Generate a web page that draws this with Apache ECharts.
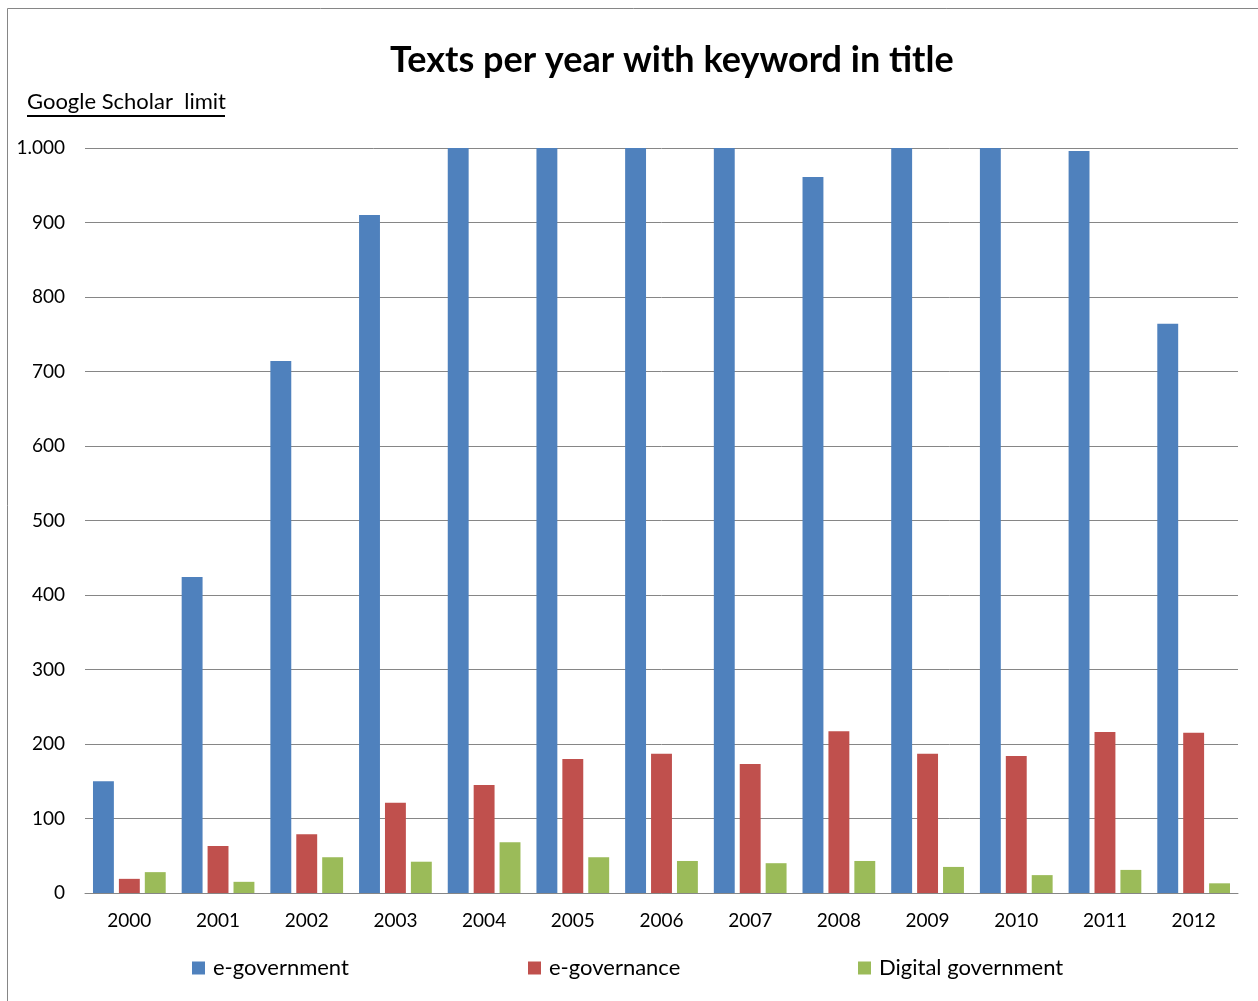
<!DOCTYPE html>
<html>
<head>
<meta charset="utf-8">
<script src="https://cdn.jsdelivr.net/npm/echarts@6/dist/echarts.min.js"></script>
<style>
  html, body { margin: 0; padding: 0; background: #fff; }
  #chart { width: 1258px; height: 1001px; }
</style>
</head>
<body>
<div id="chart"></div>
<script>
// Yearly counts of texts with the keyword in the title
const years = ['2000','2001','2002','2003','2004','2005','2006','2007','2008','2009','2010','2011','2012'];
const eGovernment = [150, 424, 714, 910, 1000, 1000, 1000, 1000, 961, 1000, 1000, 996, 764];
const eGovernance = [19, 63, 79, 121, 145, 180, 187, 173, 217, 187, 184, 216, 215];
const digitalGovernment = [28, 15, 48, 42, 68, 48, 43, 40, 43, 35, 24, 31, 13];
const yTicks = { min: 0, max: 1000, interval: 100 };

const FONT = 'Lato, "Open Sans", sans-serif';
const chart = echarts.init(document.getElementById('chart'));

const legendBase = {
  bottom: 22,
  padding: 0,
  itemWidth: 13,
  itemHeight: 13,
  itemGap: 0,
  icon: 'rect',
  textStyle: { fontFamily: FONT, fontSize: 22, color: '#000', padding: [0, 0, 0, 3] }
};

chart.setOption({
  animation: false,
  title: {
    text: 'Texts per year with keyword in title',
    left: 390,
    top: 42,
    padding: 0,
    textStyle: { fontFamily: FONT, fontSize: 36, fontWeight: 'bold', color: '#000' }
  },
  legend: [
    Object.assign({}, legendBase, { left: 192, data: ['e-government'] }),
    Object.assign({}, legendBase, { left: 528, data: ['e-governance'] }),
    Object.assign({}, legendBase, { left: 858, data: ['Digital government'] })
  ],
  grid: { left: 85, right: 20, top: 148, bottom: 108, containLabel: false },
  xAxis: {
    type: 'category',
    data: years,
    axisLine: { lineStyle: { color: '#868686' } },
    axisTick: { show: false },
    axisLabel: { fontFamily: FONT, fontSize: 19, color: '#000', margin: 18 }
  },
  yAxis: {
    type: 'value',
    min: yTicks.min,
    max: yTicks.max,
    interval: yTicks.interval,
    axisLine: { show: false },
    axisTick: { show: false },
    splitLine: { lineStyle: { color: '#868686', width: 1 } },
    axisLabel: {
      fontFamily: FONT, fontSize: 19, color: '#000', margin: 20,
      formatter: v => v >= 1000 ? String(v).replace(/(\d)(?=(\d{3})+$)/g, '$1.') : String(v)
    }
  },
  series: [
    { name: 'e-government', type: 'bar', data: eGovernment, itemStyle: { color: '#4F81BD' }, barGap: '24%', barCategoryGap: '18%' },
    { name: 'e-governance', type: 'bar', data: eGovernance, itemStyle: { color: '#C0504D' } },
    { name: 'Digital government', type: 'bar', data: digitalGovernment, itemStyle: { color: '#9BBB59' } }
  ],
  graphic: [
    {
      type: 'rect',
      shape: { x: 7.5, y: 8.5, width: 1262, height: 1000 },
      style: { fill: 'none', stroke: '#868686', lineWidth: 1 },
      silent: true
    },
    {
      type: 'text',
      left: 27,
      top: 91,
      style: { text: 'Google Scholar  limit', fontFamily: FONT, fontSize: 22, fill: '#000' }
    },
    {
      type: 'line',
      shape: { x1: 27, y1: 116, x2: 225, y2: 116 },
      style: { stroke: '#000', lineWidth: 2 }
    }
  ]
});
</script>
</body>
</html>
